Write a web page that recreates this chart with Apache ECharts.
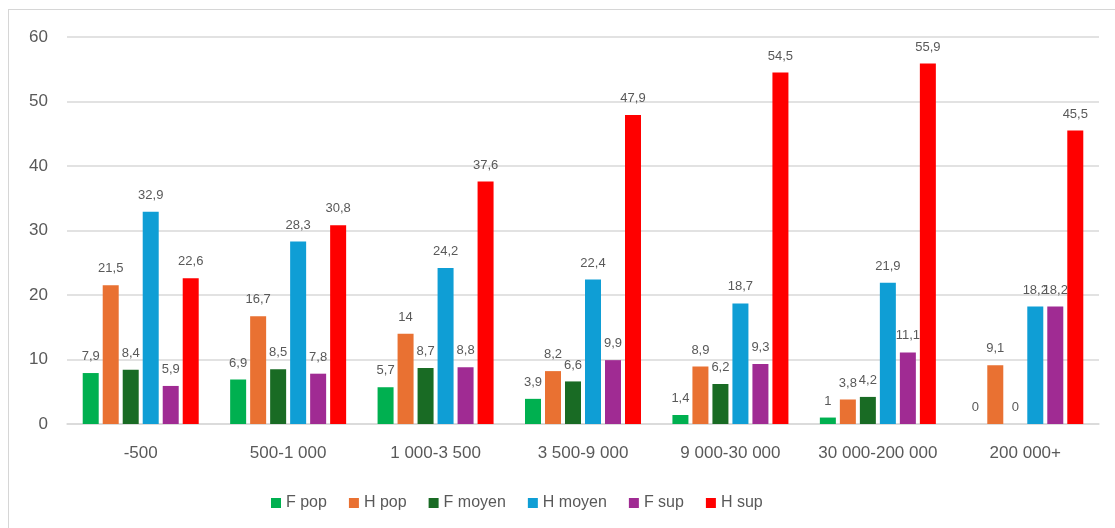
<!DOCTYPE html>
<html>
<head>
<meta charset="utf-8">
<script src="https://cdn.jsdelivr.net/npm/echarts@6/dist/echarts.min.js"></script>
<style>
  html, body { margin: 0; padding: 0; background: #fff; }
  #frame { position: absolute; left: 8px; top: 9px; width: 1120px; height: 540px; border: 1px solid #d6d6d6; box-sizing: border-box; }
  #chart { position: absolute; left: 0; top: 0; width: 1115px; height: 528px; }
</style>
</head>
<body>
<div id="frame"></div>
<div id="chart"></div>
<script>
// Size classes of communes
const categories = ['-500', '500-1 000', '1 000-3 500', '3 500-9 000', '9 000-30 000', '30 000-200 000', '200 000+'];

// Share per group (%)
const fPop    = [7.9, 6.9, 5.7, 3.9, 1.4, 1, 0];
const hPop    = [21.5, 16.7, 14, 8.2, 8.9, 3.8, 9.1];
const fMoyen  = [8.4, 8.5, 8.7, 6.6, 6.2, 4.2, 0];
const hMoyen  = [32.9, 28.3, 24.2, 22.4, 18.7, 21.9, 18.2];
const fSup    = [5.9, 7.8, 8.8, 9.9, 9.3, 11.1, 18.2];
const hSup    = [22.6, 30.8, 37.6, 47.9, 54.5, 55.9, 45.5];

const seriesDefs = [
  { name: 'F pop',    data: fPop,   color: '#00b050' },
  { name: 'H pop',    data: hPop,   color: '#e97132' },
  { name: 'F moyen',  data: fMoyen, color: '#196b24' },
  { name: 'H moyen',  data: hMoyen, color: '#0f9ed5' },
  { name: 'F sup',    data: fSup,   color: '#a02b93' },
  { name: 'H sup',    data: hSup,   color: '#ff0000' }
];

const textColor = '#595959';
const font = 'Liberation Sans, Arial, sans-serif';

const chart = echarts.init(document.getElementById('chart'));
chart.setOption({
  animation: false,
  textStyle: { fontFamily: font },
  grid: { left: 67, right: 16, top: 37, bottom: 104, containLabel: false },
  legend: {
    bottom: 12,
    left: 266,
    itemWidth: 10,
    itemHeight: 10,
    itemGap: 22,
    icon: 'rect',
    textStyle: { color: textColor, fontSize: 16, fontFamily: font }
  },
  xAxis: {
    type: 'category',
    data: categories,
    axisLine: { lineStyle: { color: '#d9d9d9', width: 1.5 } },
    axisTick: { show: false },
    axisLabel: { color: textColor, fontSize: 17, margin: 21, interval: 0, fontFamily: font }
  },
  yAxis: {
    type: 'value',
    min: 0,
    max: 60,
    interval: 10,
    axisLine: { show: false },
    axisTick: { show: false },
    axisLabel: { color: textColor, fontSize: 17, margin: 19, fontFamily: font },
    splitLine: { lineStyle: { color: '#d9d9d9', width: 1.5 } }
  },
  series: seriesDefs.map(s => ({
    name: s.name,
    type: 'bar',
    data: s.data,
    barWidth: 16,
    barGap: '25%',
    itemStyle: { color: s.color },
    label: {
      show: true,
      position: 'top',
      distance: 10,
      color: textColor,
      fontSize: 13,
      fontFamily: font,
      formatter: p => String(p.value).replace('.', ',')
    }
  }))
});
</script>
</body>
</html>
